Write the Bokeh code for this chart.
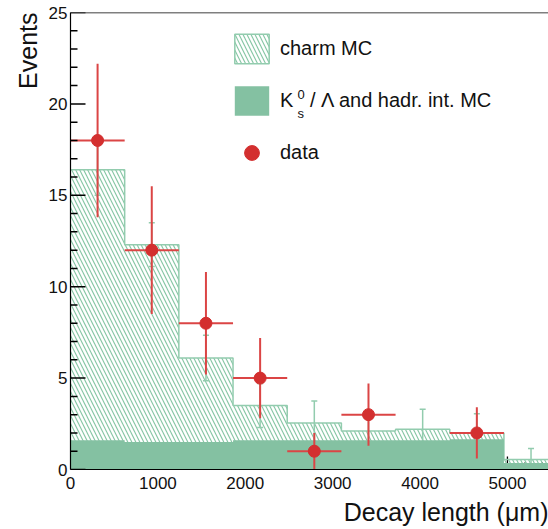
import math
from bokeh.plotting import figure
from bokeh.models import (Range1d, FixedTicker, Span, Legend, LegendItem, Label, Title)
from bokeh.embed import file_html
from bokeh.resources import INLINE

# ---------------- data ----------------
bin_edges = [0, 620, 1240, 1860, 2480, 3100, 3720, 4340, 4960, 5580]
mc_total = [16.4, 12.3, 6.1, 3.5, 2.55, 2.1, 2.2, 2.0, 0.55]      # stack top: charm MC + background MC
mc_err = [1.4, 1.2, 1.25, 1.2, 1.2, 1.1, 1.1, 1.05, 0.6]
bkg_mc = [1.6, 1.5, 1.5, 1.6, 1.6, 1.6, 1.6, 1.65, 0.35]           # K0s / Lambda and hadr. int. MC
data_bin_index = [0, 1, 2, 3, 4, 5, 7]
data_counts = [18, 12, 8, 5, 1, 3, 2]
data_err = [4.2, 3.5, 2.8, 2.2, 1.0, 1.7, 1.4]
x_major_ticks = [0, 1000, 2000, 3000, 4000, 5000]
x_minor_ticks = [200, 400, 600, 800, 1200, 1400, 1600, 1800, 2200, 2400, 2600, 2800,
                 3200, 3400, 3600, 3800, 4200, 4400, 4600, 4800, 5200, 5400]
y_major_ticks = [0, 5, 10, 15, 20, 25]
y_minor_ticks = [1, 2, 3, 4, 6, 7, 8, 9, 11, 12, 13, 14, 16, 17, 18, 19, 21, 22, 23, 24]

# ---------------- derived ----------------
lefts = bin_edges[:-1]
rights = bin_edges[1:]
centers = [(a + b) / 2 for a, b in zip(lefts, rights)]
mc_step = mc_total + [mc_total[-1]]
bkg_step = bkg_mc + [bkg_mc[-1]]
mc_lo = [v - e for v, e in zip(mc_total, mc_err)]
mc_hi = [v + e for v, e in zip(mc_total, mc_err)]
d_x = [centers[i] for i in data_bin_index]
d_l = [lefts[i] for i in data_bin_index]
d_r = [rights[i] for i in data_bin_index]
d_lo = [v - e for v, e in zip(data_counts, data_err)]
d_hi = [v + e for v, e in zip(data_counts, data_err)]

GREEN_FILL = "#84c1a2"
GREEN_LINE = "#92ccae"
HATCH = "#88c7a6"
RED = "#d32f2f"
RED_LINE = "#db4545"
FONT = "Liberation Sans"
INK = "#111111"

p = figure(width=548, height=529, x_range=Range1d(0, 5470), y_range=Range1d(0, 25),
           output_backend="svg", toolbar_location=None,
           min_border_left=70, min_border_right=0, min_border_top=12, min_border_bottom=59)
p.grid.visible = False
p.outline_line_color = None
p.background_fill_color = "white"
p.border_fill_color = "white"

# axes (labels only; tick marks are drawn inside the frame below)
xa = p.xaxis[0]
xa.ticker = FixedTicker(ticks=x_major_ticks)
ya = p.yaxis[0]
ya.ticker = FixedTicker(ticks=y_major_ticks)
xa.major_label_standoff = 7
ya.major_label_standoff = 3
for ax in (xa, ya):
    ax.major_tick_in = 0
    ax.major_tick_out = 0
    ax.minor_tick_in = 0
    ax.minor_tick_out = 0
    ax.major_label_text_font = FONT
    ax.major_label_text_font_size = "17px"
    ax.major_label_text_color = INK
    ax.axis_line_color = "black"
    ax.axis_line_width = 1.2

# x tick marks (pointing into the frame, covered by the histograms as in the original)
p.scatter(x=x_major_ticks, y=[0] * len(x_major_ticks), marker="dash", angle=math.pi / 2,
          size=26, line_color="black", line_width=1.3)
p.scatter(x=x_minor_ticks, y=[0] * len(x_minor_ticks), marker="dash", angle=math.pi / 2,
          size=14, line_color="black", line_width=1.3)

# charm MC (hatched, stack total)
p.varea_step(x=bin_edges, y1=0, y2=mc_step, step_mode="after", fill_color="white", fill_alpha=0,
             hatch_pattern="\\", hatch_color=HATCH, hatch_scale=8, hatch_weight=1.2)
p.step(x=bin_edges, y=mc_step, mode="after", line_color=GREEN_LINE, line_width=1.5)

# MC error bars
p.segment(x0=centers, x1=centers, y0=mc_lo, y1=mc_hi, line_color=GREEN_LINE, line_width=1.5)
p.scatter(x=centers + centers, y=mc_lo + mc_hi, marker="dash", size=6,
          line_color=GREEN_LINE, line_width=1.5)

# K0s / Lambda and hadronic interactions MC
bkg_r = p.varea_step(x=bin_edges, y1=0, y2=bkg_step, step_mode="after", fill_color=GREEN_FILL)

# data
p.segment(x0=d_l, x1=d_r, y0=data_counts, y1=data_counts, line_color=RED_LINE, line_width=2)
p.segment(x0=d_x, x1=d_x, y0=d_lo, y1=d_hi, line_color=RED_LINE, line_width=2)
data_r = p.scatter(x=d_x, y=data_counts, marker="circle", size=12, fill_color=RED, line_color=RED)

# y tick marks on top (pointing into the frame)
p.scatter(x=[0] * len(y_major_ticks), y=y_major_ticks, marker="dash", size=30,
          line_color="black", line_width=1.5)
p.scatter(x=[0] * len(y_minor_ticks), y=y_minor_ticks, marker="dash", size=14,
          line_color="black", line_width=1.5)

# top frame line
p.add_layout(Span(location=25, dimension="width", line_color="black", line_width=1.5))

# invisible proxy for the hatched legend swatch (with outline)
charm_proxy = p.quad(left=lefts, right=rights, bottom=0, top=mc_total, fill_color="white",
                     hatch_pattern="\\", hatch_color=HATCH, hatch_scale=8, hatch_weight=1.2,
                     line_color=GREEN_LINE, line_width=1.5, visible=False)

legend = Legend(items=[
    LegendItem(label="charm MC", renderers=[charm_proxy]),
    LegendItem(label="K\u00a0\u00a0\u00a0/ \u039b and hadr. int. MC", renderers=[bkg_r]),
    LegendItem(label="data", renderers=[data_r]),
], location=(160, 298), glyph_width=43, glyph_height=37, label_height=37,
   label_standoff=7, spacing=15, padding=0, border_line_color=None,
   background_fill_alpha=0, label_text_font=FONT, label_text_font_size="20px",
   label_text_color=INK)
p.add_layout(legend)

# sub/superscript of K0s in the legend
p.add_layout(Label(x=227, y=375, x_units="screen", y_units="screen", text="0",
                   text_font=FONT, text_font_size="13px", text_baseline="alphabetic",
                   text_color=INK))
p.add_layout(Label(x=227, y=356, x_units="screen", y_units="screen", text="s",
                   text_font=FONT, text_font_size="13px", text_baseline="alphabetic",
                   text_color=INK))

# axis titles
p.add_layout(Title(text="Decay length (\u03bcm)", align="right", standoff=8,
                   text_font=FONT, text_font_size="25px", text_font_style="normal",
                   text_color=INK), "below")
p.add_layout(Title(text="Events", align="right", standoff=8,
                   text_font=FONT, text_font_size="25px", text_font_style="normal",
                   text_color=INK), "left")

open("out.html", "w").write(file_html(p, INLINE))
